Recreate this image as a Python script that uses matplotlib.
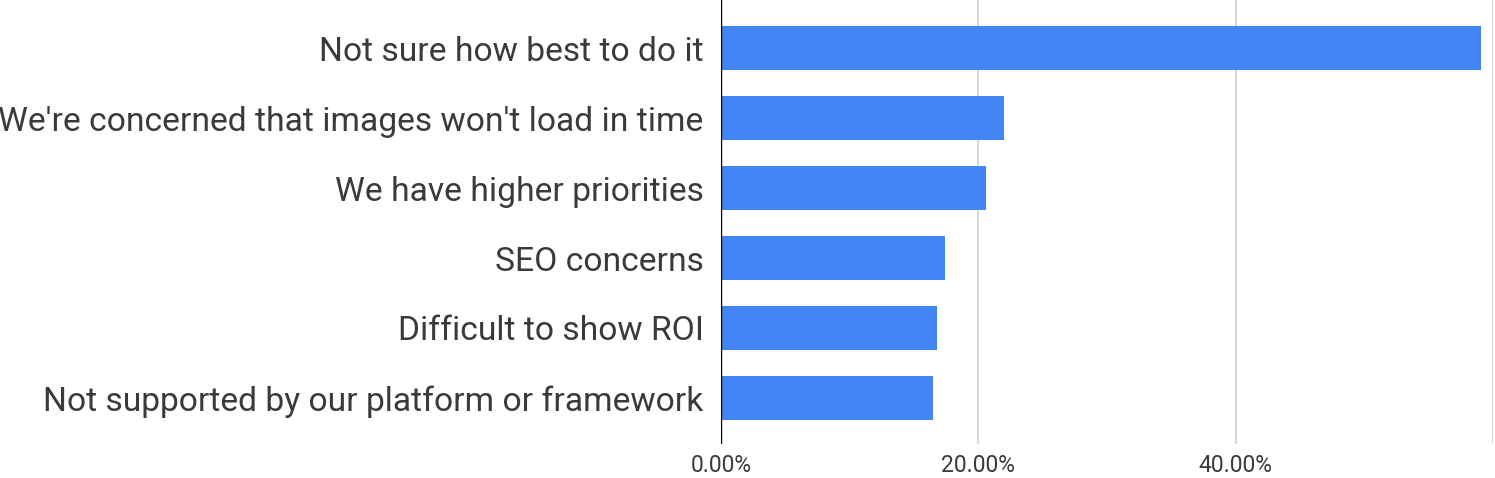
import matplotlib.pyplot as plt
import matplotlib as mpl

mpl.rcParams["font.family"] = ["Roboto", "DejaVu Sans"]

categories = [
    "Not sure how best to do it",
    "We're concerned that images won't load in time",
    "We have higher priorities",
    "SEO concerns",
    "Difficult to show ROI",
    "Not supported by our platform or framework",
]
values = [59.1, 22.0, 20.6, 17.4, 16.8, 16.45]
x_ticks = [0, 20, 40]
x_tick_labels = ["0.00%", "20.00%", "40.00%"]

BAR_COLOR = "#4285F4"
TEXT_COLOR = "#3a3a3a"

fig = plt.figure(figsize=(14.95, 4.78), dpi=100)
ax = fig.add_axes([0.4823, 0.071, 0.5164, 0.929])

ypos = list(range(len(categories)))
ax.barh(ypos, values, height=0.63, color=BAR_COLOR, zorder=3)

ax.set_xlim(0, 60)
ax.set_ylim(len(categories) - 1 + 0.66, -0.69)

# gridlines, including right edge at 60%
for g in [20, 40, 60]:
    ax.axvline(g, color="#d0d0d0", linewidth=1.2, zorder=1)
ax.axvline(0, color="black", linewidth=1.0, zorder=4)

for s in ax.spines.values():
    s.set_visible(False)

ax.set_yticks(ypos)
ax.set_yticklabels(categories, fontsize=24.2, color=TEXT_COLOR)
ax.set_xticks(x_ticks)
ax.set_xticklabels(x_tick_labels, fontsize=16.5, color=TEXT_COLOR)
ax.tick_params(axis="y", length=0, pad=12.5)
ax.tick_params(axis="x", length=0, pad=7)

fig.savefig("out.png", dpi=100, facecolor="white")
